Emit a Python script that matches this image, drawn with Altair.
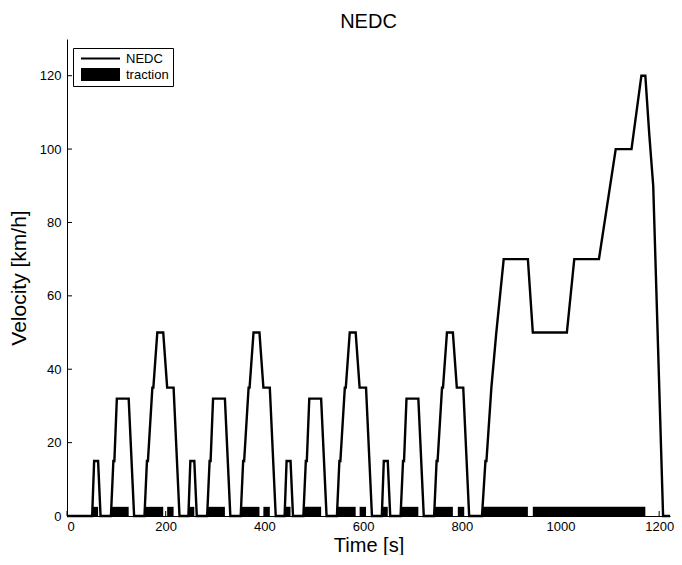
import altair as alt
import pandas as pd

# NEDC velocity profile breakpoints (time [s], velocity [km/h])
t_nedc = [0, 51, 55, 63, 68, 89, 94, 96, 101, 125, 136, 157, 162, 164, 173, 175, 183, 195, 203, 216, 228,
          246, 250, 258, 263, 284, 289, 291, 296, 320, 331, 352, 357, 359, 368, 370, 378, 390, 398, 411, 423,
          441, 445, 453, 458, 479, 484, 486, 491, 515, 526, 547, 552, 554, 563, 565, 573, 585, 593, 606, 618,
          638, 642, 650, 655, 676, 681, 683, 688, 712, 723, 744, 749, 751, 760, 762, 770, 782, 790, 803, 815,
          841, 848, 850, 860, 870, 885, 934, 944, 1013, 1028, 1078, 1112, 1144, 1164, 1172, 1180, 1188, 1208, 1222]
v_nedc = [0, 0, 15, 15, 0, 0, 15, 15, 32, 32, 0, 0, 15, 15, 35, 35, 50, 50, 35, 35, 0,
          0, 15, 15, 0, 0, 15, 15, 32, 32, 0, 0, 15, 15, 35, 35, 50, 50, 35, 35, 0,
          0, 15, 15, 0, 0, 15, 15, 32, 32, 0, 0, 15, 15, 35, 35, 50, 50, 35, 35, 0,
          0, 15, 15, 0, 0, 15, 15, 32, 32, 0, 0, 15, 15, 35, 35, 50, 50, 35, 35, 0,
          0, 15, 15, 35, 50, 70, 70, 50, 50, 70, 70, 100, 100, 120, 120, 104, 90, 0, 0]

# traction phases (start, end) [s]
trac_start = [51, 89, 157, 203, 246, 284, 352, 398, 441, 479, 547, 593, 638, 676, 744, 792, 841, 944]
trac_end = [63, 125, 195, 216, 258, 320, 390, 411, 453, 515, 585, 606, 650, 712, 782, 805, 934, 1172]
trac_level = 2.5

x_ticks = [0, 200, 400, 600, 800, 1000, 1200]
y_ticks = [0, 20, 40, 60, 80, 100, 120]
series = ["NEDC", "traction"]

FONT = "Liberation Sans"
W, H = 603, 477

df_line = pd.DataFrame({"t": t_nedc, "v": v_nedc})
df_trac = pd.DataFrame({"start": trac_start, "end": trac_end,
                        "lo": [0] * len(trac_start), "hi": [trac_level] * len(trac_start)})
df_xt = pd.DataFrame({"x": x_ticks})
df_yt = pd.DataFrame({"y": y_ticks})
df_leg = pd.DataFrame({"series": series})

xs = alt.Scale(domain=[0, 1222], nice=False, zero=False)
ys = alt.Scale(domain=[0, 130], nice=False)

x_axis = alt.Axis(values=x_ticks, format="d", title="Time [s]", ticks=False, grid=False,
                  labelPadding=4, labelFontSize=13, labelFont=FONT, labelColor="black",
                  titleFontSize=20, titleFont=FONT, titleColor="black", titleFontWeight="normal",
                  titleBaseline="alphabetic", titleY=35,
                  domainColor="black", domainWidth=1)
y_axis = alt.Axis(values=y_ticks, format="d", title="Velocity [km/h]", ticks=False, grid=False,
                  labelPadding=6, labelFontSize=13, labelFont=FONT, labelColor="black",
                  titleFontSize=21, titleFont=FONT, titleColor="black", titleFontWeight="normal",
                  titlePadding=10, domainColor="black", domainWidth=1)

bars = alt.Chart(df_trac).mark_rect(color="black").encode(
    x=alt.X("start:Q", scale=xs, axis=x_axis),
    x2="end:Q",
    y=alt.Y("lo:Q", scale=ys, axis=y_axis),
    y2="hi:Q",
)

line = alt.Chart(df_line).mark_line(color="black", strokeWidth=2.4, strokeJoin="miter").encode(
    x=alt.X("t:Q", scale=xs, axis=x_axis),
    y=alt.Y("v:Q", scale=ys, axis=y_axis),
)

xt = alt.Chart(df_xt).mark_rule(color="black", strokeWidth=1).encode(
    x=alt.X("x:Q", scale=xs, axis=x_axis), y=alt.value(H), y2=alt.value(H - 5))
yt = alt.Chart(df_yt).mark_rule(color="black", strokeWidth=1).encode(
    y=alt.Y("y:Q", scale=ys, axis=y_axis), x=alt.value(0), x2=alt.value(5))

line_path = "M-1,-0.17H5V0.17H-1Z"
rect_path = "M-1,-1H5V1H-1Z"

leg = alt.Chart(df_leg).mark_point(filled=True, color="black", opacity=0).encode(
    x=alt.value(0), y=alt.value(0),
    shape=alt.Shape("series:N",
                    scale=alt.Scale(domain=series, range=[line_path, rect_path]),
                    legend=alt.Legend(title=None, orient="none", legendX=6, legendY=9,
                                      strokeColor="black", fillColor="white", padding=4,
                                      symbolSize=169, symbolOpacity=1, symbolFillColor="black",
                                      symbolStrokeWidth=0, symbolOffset=4, labelOffset=32,
                                      rowPadding=2, labelFontSize=13, labelFont=FONT,
                                      labelColor="black", cornerRadius=0)),
)

chart = alt.layer(bars, line, xt, yt, leg).properties(
    width=W, height=H,
    autosize="none",
    padding={"left": 59, "top": 31, "right": 4, "bottom": 39},
    background="white",
    title=alt.TitleParams("NEDC", fontSize=20, fontWeight="normal", font=FONT, color="black",
                          anchor="middle", offset=4),
).configure_view(strokeWidth=0, stroke="transparent")

chart.save("out.html", embed_options={"renderer": "svg", "actions": False})
